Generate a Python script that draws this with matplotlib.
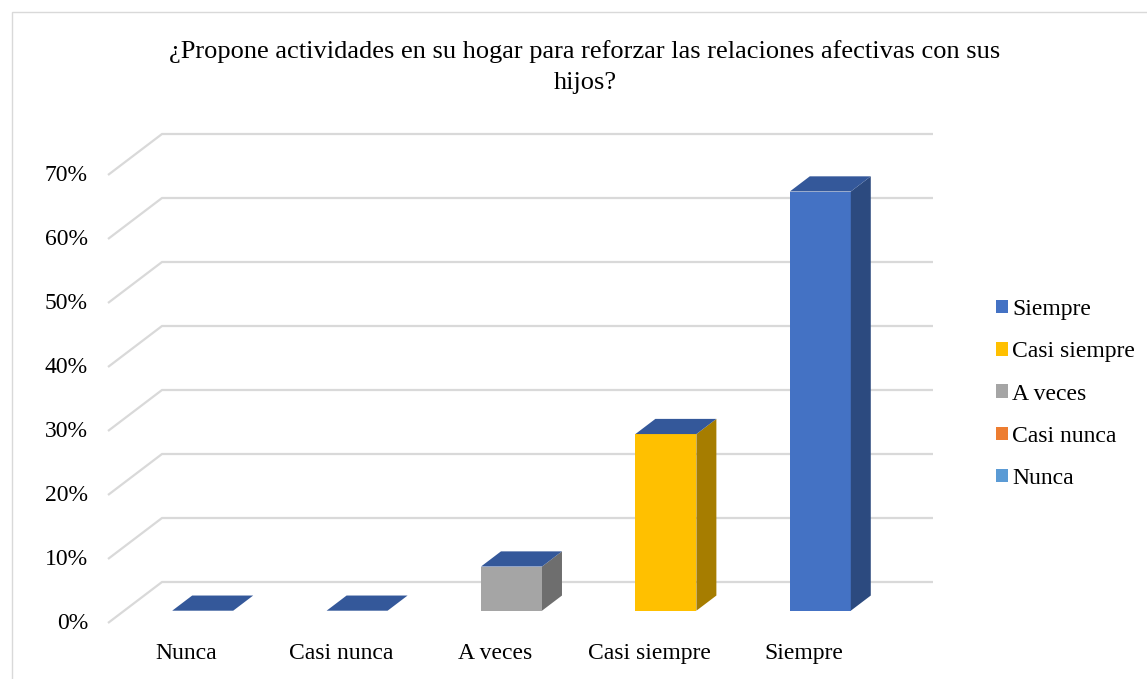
import matplotlib
matplotlib.use("Agg")
import matplotlib.pyplot as plt
from matplotlib.patches import Polygon, Rectangle, Patch

categories = ["Nunca", "Casi nunca", "A veces", "Casi siempre", "Siempre"]
values = [0.0, 0.0, 6.9, 27.6, 65.5]
front_colors = ["#5B9BD5", "#ED7D31", "#A5A5A5", "#FFC000", "#4472C4"]
side_colors = ["#3C6E9C", "#B05A22", "#6E6E6E", "#A67D00", "#2C4A7F"]
top_color = "#34589A"
yticks = [0, 10, 20, 30, 40, 50, 60, 70]
ytick_labels = ["0%", "10%", "20%", "30%", "40%", "50%", "60%", "70%"]
title = "¿Propone actividades en su hogar para reforzar las relaciones afectivas con sus\nhijos?"

plt.rcParams['font.family'] = ['Liberation Serif', 'DejaVu Serif']

W, H = 1147, 679
fig = plt.figure(figsize=(W / 100, H / 100), dpi=100)

# axes in pixel placement
L, R, B, T = 100, 940, 630, 120
ax = fig.add_axes([L / W, (H - B) / H, (R - L) / W, (B - T) / H])
px_per_cat = 154.4
px_per_pct = 6.4
x0_px = 186.5   # center of first category at the front plane
y0_px = 623.0   # 0% at the front plane
ax.set_xlim((L - x0_px) / px_per_cat, (R - x0_px) / px_per_cat)
ax.set_ylim((y0_px - B) / px_per_pct, (y0_px - T) / px_per_pct)
ax.axis("off")

# oblique depth: full depth = 54 px right, 41 px up
DX = 54 / px_per_cat
DY = 41 / px_per_pct


def P(x, y, d):
    return (x + DX * d, y + DY * d)


grid_c = "#D9D9D9"
left_x = (108 - x0_px) / px_per_cat
right_x = (933 - x0_px - 54) / px_per_cat
for v in yticks:
    a = P(left_x, v, 0)
    b = P(left_x, v, 1)
    c = P(right_x, v, 1)
    ax.plot([a[0], b[0], c[0]], [a[1], b[1], c[1]], color=grid_c, lw=1.6,
            zorder=1, solid_capstyle="butt", solid_joinstyle="miter")
    ax.text(left_x - 0.13, v - 0.1, ytick_labels[yticks.index(v)], ha="right",
            va="center", fontsize=17, color="#000000")

hw = 30.5 / px_per_cat
d0, d1 = 0.30, 0.67
for i, (cat, val) in enumerate(zip(categories, values)):
    xl, xr = i - hw, i + hw
    front = [P(xl, 0, d0), P(xr, 0, d0), P(xr, val, d0), P(xl, val, d0)]
    side = [P(xr, 0, d0), P(xr, 0, d1), P(xr, val, d1), P(xr, val, d0)]
    top = [P(xl, val, d0), P(xr, val, d0), P(xr, val, d1), P(xl, val, d1)]
    if val > 0:
        ax.add_patch(Polygon(front, closed=True, fc=front_colors[i], ec="none", zorder=3))
        ax.add_patch(Polygon(side, closed=True, fc=side_colors[i], ec="none", zorder=3))
    ax.add_patch(Polygon(top, closed=True, fc=top_color, ec="none", zorder=4))
    ax.text(i, -3.2, cat, ha="center", va="top", fontsize=17, color="#000000")

# title
fig.text(585 / W, 1 - 67 / H, title, ha="center", va="center", fontsize=19,
         linespacing=1.52, color="#000000")

# legend (reverse order as in reference)
handles = [Patch(fc=front_colors[i], ec="none", label=categories[i])
           for i in range(len(categories) - 1, -1, -1)]
fig.legend(handles=handles, loc="center left", bbox_to_anchor=(984 / W, 1 - 394 / H),
           frameon=False, fontsize=17, handlelength=0.5, handleheight=0.5,
           handletextpad=0.2, labelspacing=0.9, borderpad=0)

# chart border
fig.add_artist(Rectangle((12 / W, -0.01), 1.02, 1 - 12 / H + 0.01,
                         transform=fig.transFigure, fill=False, ec="#D9D9D9", lw=1.0))

fig.savefig("out.png", dpi=100)
